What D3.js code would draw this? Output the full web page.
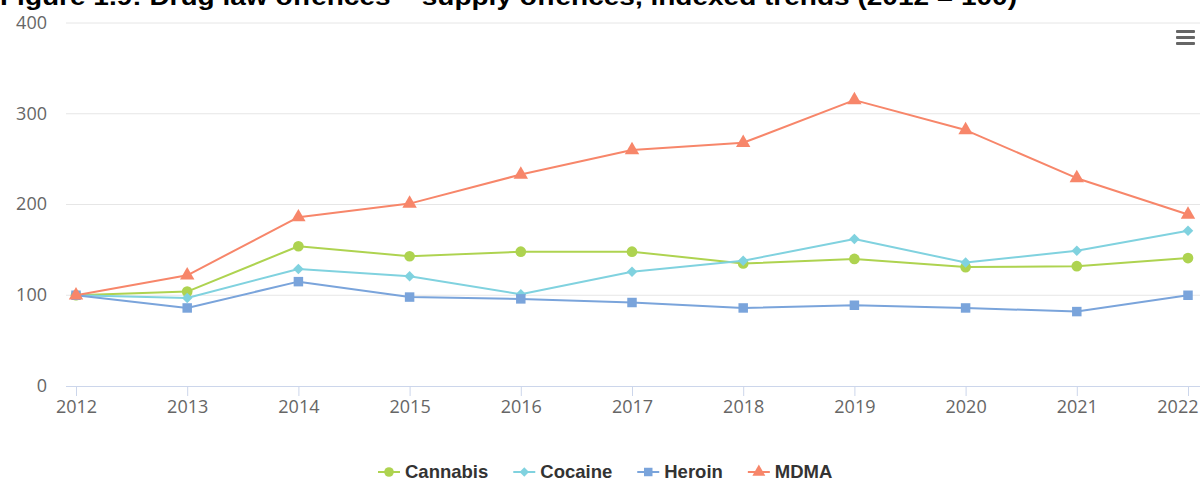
<!DOCTYPE html>
<html>
<head>
<meta charset="utf-8">
<script src="https://cdn.jsdelivr.net/npm/d3@7"></script>
<style>
  html, body { margin: 0; padding: 0; background: #fff; overflow: hidden; }
  svg { display: block; }
</style>
</head>
<body>
<svg id="chart" width="1200" height="482"></svg>
<script>
// Index values, 2012 = 100
const years = ["2012","2013","2014","2015","2016","2017","2018","2019","2020","2021","2022"];
const cannabis = [100, 104, 154, 143, 148, 148, 135, 140, 131, 132, 141];
const cocaine  = [100,  97, 129, 121, 101, 126, 138, 162, 136, 149, 171];
const heroin   = [100,  86, 115,  98,  96,  92,  86,  89,  86,  82, 100];
const mdma     = [100, 122, 186, 201, 233, 260, 268, 315, 282, 229, 189];
const yTicks = [0, 100, 200, 300, 400];
const seriesNames = ["Cannabis", "Cocaine", "Heroin", "MDMA"];
const seriesColors = ["#aed350", "#80d2df", "#7aa4db", "#f7866a"];
const seriesSymbols = [d3.symbolCircle, d3.symbolSquare, d3.symbolSquare, d3.symbolTriangle];
const symbolRotation = [0, 45, 0, 0];
const symbolSizes = [90, 55, 90, 90];
const seriesValues = [cannabis, cocaine, heroin, mdma];
const title = "Figure 1.9: Drug law offences \u2013 supply offences, indexed trends (2012 = 100)";

const svg = d3.select("#chart");
const width = 1200;
const plotLeft = 66, plotRight = 1200, plotTop = 23, plotBottom = 386;

const x = d3.scalePoint().domain(years).range([76, 1188]);
const y = d3.scaleLinear().domain([0, 400]).range([plotBottom, plotTop]);

// Title (partly above the top edge)
svg.append("text")
  .attr("x", 0).attr("y", 5)
  .attr("font-family", "Liberation Sans, Arial, sans-serif")
  .attr("font-weight", "bold")
  .attr("font-size", 24)
  .attr("fill", "#000")
  .attr("textLength", 1017)
  .attr("lengthAdjust", "spacingAndGlyphs")
  .text(title);

// Horizontal gridlines
svg.append("g").selectAll("line")
  .data(yTicks.filter(t => t > 0))
  .join("line")
  .attr("x1", plotLeft).attr("x2", plotRight)
  .attr("y1", d => y(d)).attr("y2", d => y(d))
  .attr("stroke", "#e6e6e6").attr("stroke-width", 1);

// Y axis labels
const yAxis = d3.axisLeft(y).tickValues(yTicks).tickSize(0).tickPadding(0);
const yg = svg.append("g").attr("transform", `translate(47,0)`).call(yAxis);
yg.select(".domain").remove();
yg.selectAll("text")
  .attr("font-family", "Open Sans, sans-serif")
  .attr("font-size", 18)
  .attr("fill", "#666")
  .attr("dy", "0.3em");

// X axis
const xAxis = d3.axisBottom(x).tickSizeInner(10).tickSizeOuter(0).tickPadding(4);
const xg = svg.append("g").attr("transform", `translate(0,${plotBottom})`).call(xAxis);
xg.select(".domain").remove();
xg.insert("line", ":first-child")
  .attr("x1", plotLeft).attr("x2", plotRight)
  .attr("y1", 0.5).attr("y2", 0.5)
  .attr("stroke", "#ccd6eb");
xg.selectAll(".tick line").attr("stroke", "#ccd6eb");
xg.selectAll(".tick text")
  .attr("font-family", "Open Sans, sans-serif")
  .attr("font-size", 18)
  .attr("fill", "#666");
// Keep the last label inside the right edge
xg.selectAll(".tick text").filter(d => d === years[years.length - 1])
  .attr("text-anchor", "end")
  .attr("x", width - 2 - x(years[years.length - 1]));

// Series lines and markers
const line = d3.line().x((d, i) => x(years[i])).y(d => y(d));
seriesValues.forEach((vals, s) => {
  const g = svg.append("g");
  g.append("path")
    .datum(vals)
    .attr("d", line)
    .attr("fill", "none")
    .attr("stroke", seriesColors[s])
    .attr("stroke-width", 2)
    .attr("stroke-linejoin", "round");
  g.selectAll("path.mark")
    .data(vals)
    .join("path")
    .attr("class", "mark")
    .attr("transform", (d, i) => `translate(${x(years[i])},${y(d)}) rotate(${symbolRotation[s]})`)
    .attr("d", d3.symbol().type(seriesSymbols[s]).size(symbolSizes[s]))
    .attr("fill", seriesColors[s]);
});

// Menu icon
svg.append("g").selectAll("rect")
  .data([0, 1, 2])
  .join("rect")
  .attr("x", 1176).attr("y", d => 30 + d * 6)
  .attr("width", 19).attr("height", 3)
  .attr("rx", 1)
  .attr("fill", "#666");

// Legend
const legend = svg.append("g");
let lx = 378;
const ly = 472;
seriesNames.forEach((name, s) => {
  const item = legend.append("g");
  item.append("line")
    .attr("x1", lx).attr("x2", lx + 22)
    .attr("y1", ly).attr("y2", ly)
    .attr("stroke", seriesColors[s]).attr("stroke-width", 2);
  item.append("path")
    .attr("transform", `translate(${lx + 11},${ly}) rotate(${symbolRotation[s]})`)
    .attr("d", d3.symbol().type(seriesSymbols[s]).size(symbolSizes[s] * 0.8))
    .attr("fill", seriesColors[s]);
  const t = item.append("text")
    .attr("x", lx + 27).attr("y", ly + 6)
    .attr("font-family", "Liberation Sans, Arial, sans-serif")
    .attr("font-weight", "bold")
    .attr("font-size", 18.5)
    .attr("fill", "#333")
    .text(name);
  lx += 27 + t.node().getComputedTextLength() + 25;
});
</script>
</body>
</html>
